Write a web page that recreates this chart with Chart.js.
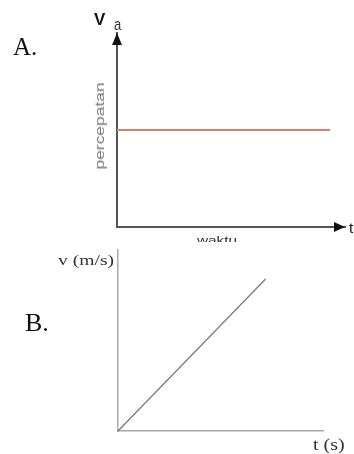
<!DOCTYPE html>
<html>
<head>
<meta charset="utf-8">
<script src="https://cdn.jsdelivr.net/npm/chart.js@4.4.1/dist/chart.umd.min.js"></script>
<style>
html,body{margin:0;padding:0;background:#fff;}
#wrap{position:relative;width:354px;height:454px;overflow:hidden;background:#fff;}
.t{position:absolute;white-space:nowrap;line-height:1;}
#boxA{position:absolute;left:0;top:0;width:354px;height:242px;overflow:hidden;}
#boxB{position:absolute;left:0;top:242px;width:354px;height:212px;}
</style>
</head>
<body>
<div id="wrap">
  <div id="boxA">
    <canvas id="cA" width="354" height="242"></canvas>
    <div class="t" style="left:13px;top:33px;font:25px 'Liberation Serif',serif;color:#111;">A.</div>
    <div class="t" style="left:94px;top:10px;font:bold 17px 'Liberation Sans',Arial,sans-serif;color:#111;">V</div>
    <div class="t" style="left:114px;top:14px;font:13px 'Liberation Sans',Arial,sans-serif;color:#333;transform:scaleY(1.3);transform-origin:left top;">a</div>
    <div class="t" style="left:100px;top:126px;font:12px 'Liberation Sans',Arial,sans-serif;color:#777;transform:translate(-50%,-50%) rotate(-90deg) scaleX(1.45);">percepatan</div>
    <div class="t" style="left:217px;top:234px;font:11px 'Liberation Sans',Arial,sans-serif;color:#333;transform:translateX(-50%) scaleX(1.4);">waktu</div>
    <div class="t" style="left:349px;top:219px;font:15px 'Liberation Sans',Arial,sans-serif;color:#111;">t</div>
  </div>
  <div id="boxB">
    <canvas id="cB" width="354" height="212"></canvas>
  </div>
  <div class="t" style="left:25px;top:308px;font:26px 'Liberation Serif',serif;color:#111;">B.</div>
  <div class="t" style="left:58px;top:253px;font:14px 'Liberation Serif',serif;color:#333;transform:scaleX(1.4);transform-origin:left top;">v (m/s)</div>
  <div class="t" style="left:313px;top:436px;font:16px 'Liberation Serif',serif;color:#333;transform:scaleX(1.25);transform-origin:left top;">t (s)</div>
</div>
<script>
// Data
const accelTime = [0, 9.35];
const accelValue = [5, 5];
const velTime = [0, 7.2];
const velValue = [0, 8.4];
const axisMax = 10;

const arrowPlugin = {
  id: 'arrows',
  afterDraw(chart, args, opts) {
    if (!opts.enabled) return;
    const ctx = chart.ctx;
    const xs = chart.scales.x, ys = chart.scales.y;
    const x0 = xs.left, yTop = ys.top, yBot = ys.bottom, xRight = xs.right;
    ctx.save();
    ctx.fillStyle = opts.color;
    ctx.beginPath();
    ctx.moveTo(x0, yTop);
    ctx.lineTo(x0 - 5, yTop + 12);
    ctx.lineTo(x0 + 5, yTop + 12);
    ctx.closePath();
    ctx.fill();
    ctx.beginPath();
    ctx.moveTo(xRight, yBot);
    ctx.lineTo(xRight - 11, yBot - 5);
    ctx.lineTo(xRight - 11, yBot + 5);
    ctx.closePath();
    ctx.fill();
    ctx.restore();
  }
};

function makeScales(color, width) {
  const common = {
    type: 'linear', min: 0, max: axisMax,
    grid: { display: false, drawTicks: false },
    ticks: { display: false },
    border: { display: true, color: color, width: width }
  };
  return { x: Object.assign({ position: 'bottom' }, common), y: Object.assign({ position: 'left' }, common) };
}

new Chart(document.getElementById('cA'), {
  type: 'line',
  data: {
    datasets: [{
      data: accelTime.map((t, i) => ({ x: t, y: accelValue[i] })),
      borderColor: '#de7e66', borderWidth: 2, pointRadius: 0, clip: false
    }]
  },
  options: {
    responsive: false, animation: false, events: [],
    layout: { padding: { left: 117, top: 33, right: 9, bottom: 15 } },
    plugins: { legend: { display: false }, tooltip: { enabled: false }, arrows: { enabled: true, color: '#111' } },
    scales: makeScales('#555', 2)
  },
  plugins: [arrowPlugin]
});

new Chart(document.getElementById('cB'), {
  type: 'line',
  data: {
    datasets: [{
      data: velTime.map((t, i) => ({ x: t, y: velValue[i] })),
      borderColor: '#777', borderWidth: 1.2, pointRadius: 0, clip: false
    }]
  },
  options: {
    responsive: false, animation: false, events: [],
    layout: { padding: { left: 118, top: 8, right: 31, bottom: 23 } },
    plugins: { legend: { display: false }, tooltip: { enabled: false }, arrows: { enabled: false } },
    scales: makeScales('#aaa', 1.5)
  },
  plugins: [arrowPlugin]
});
</script>
</body>
</html>
